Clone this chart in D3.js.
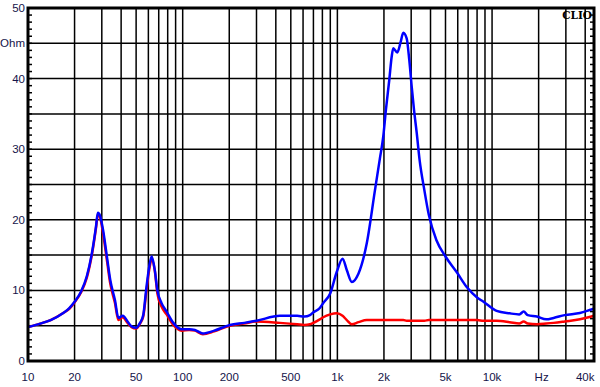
<!DOCTYPE html>
<html>
<head>
<meta charset="utf-8">
<script src="https://cdn.jsdelivr.net/npm/d3@7"></script>
<style>
  body { margin: 0; background: #fff; }
  svg { display: block; }
  .lbl { font-family: "Liberation Sans", Arial, sans-serif; font-size: 11.5px; fill: #14144a; }
</style>
</head>
<body>
<div id="chart-area"></div>
<script>
// frequency points (Hz)
var freqs = [10, 12, 14, 16.9, 18.5, 20, 22, 24, 26, 27.5, 28.3, 29.2, 30.6, 32.5, 34, 36.5, 38.4, 41, 44, 46.7,
  50, 53, 55.6, 58, 60.8, 63, 66, 68.6, 73, 78.7, 87, 98.5, 110, 120, 135, 160, 202, 250, 300, 425,
  550, 611, 665, 700, 770, 810, 900, 990, 1080, 1150, 1240, 1370, 1550, 1750, 1880, 1980, 2060, 2165, 2244, 2298,
  2438, 2566, 2668, 2805, 2917, 3022, 3128, 3258, 3400, 3650, 3900, 4370, 5000, 5900, 6900, 8000, 8800, 10700, 13000, 15000,
  16000, 17000, 19500, 22400, 25000, 29500, 37000, 43900, 45500];

// impedance, blue curve (ohm)
var blueZ = [4.8, 5.3, 5.8, 6.8, 7.5, 8.4, 9.8, 12.0, 15.5, 19.0, 21.0, 20.6, 18.5, 14.5, 11.5, 8.6, 6.1, 6.4, 5.6, 4.9,
  4.7, 5.4, 6.5, 10.0, 13.4, 14.8, 12.9, 10.0, 8.2, 7.0, 5.4, 4.5, 4.5, 4.4, 3.9, 4.3, 5.1, 5.4, 5.7, 6.4,
  6.4, 6.3, 6.5, 6.9, 7.5, 8.2, 9.6, 12.6, 14.5, 12.9, 11.2, 12.4, 16.7, 24.2, 28.6, 31.8, 35.6, 39.8, 43.1, 44.3,
  43.7, 45.2, 46.5, 45.7, 42.6, 38.9, 35.6, 32.3, 28.5, 24.2, 20.7, 17.1, 14.8, 12.6, 10.4, 9.0, 8.4, 7.1, 6.75, 6.6,
  7.0, 6.5, 6.3, 5.9, 6.1, 6.5, 6.8, 7.3, 7.4];

// impedance, red curve (ohm)
var redZ = [4.8, 5.3, 5.8, 6.8, 7.4, 8.3, 9.7, 11.8, 15.3, 18.8, 20.8, 20.4, 18.0, 14.0, 11.0, 8.2, 5.8, 6.2, 5.4, 4.8,
  4.6, 5.3, 6.3, 9.5, 13.0, 14.4, 12.8, 9.6, 7.7, 6.6, 5.1, 4.3, 4.4, 4.3, 3.8, 4.2, 5.0, 5.3, 5.6, 5.4,
  5.2, 5.1, 5.2, 5.4, 5.9, 6.2, 6.6, 6.75, 6.4, 5.8, 5.2, 5.5, 5.8, 5.8, 5.8, 5.8, 5.8, 5.8, 5.8, 5.8,
  5.8, 5.8, 5.8, 5.7, 5.7, 5.7, 5.7, 5.7, 5.7, 5.7, 5.8, 5.8, 5.8, 5.8, 5.8, 5.8, 5.7, 5.7, 5.5, 5.3,
  5.6, 5.3, 5.2, 5.3, 5.4, 5.6, 5.9, 6.3, 6.4];

var xTickVals = [10, 20, 50, 100, 200, 500, 1000, 2000, 5000, 10000, 20000, 40000];
var xTickText = ["10", "20", "50", "100", "200", "500", "1k", "2k", "5k", "10k", "Hz", "40k"];
var yTickVals = [0, 10, 20, 30, 40, 45, 50];
var yTickText = ["0", "10", "20", "30", "40", "Ohm", "50"];

var width = 600, height = 387;
var pLeft = 28, pRight = 594, pTop = 8, pBottom = 361;

var svg = d3.select("#chart-area").append("svg").attr("width", width).attr("height", height);

var x = d3.scaleLog().domain([10, 45600]).range([pLeft, pRight]);
var y = d3.scaleLinear().domain([0, 50]).range([pBottom, pTop]);

// vertical grid: 1..9 of each decade
var vgrid = [];
[10, 100, 1000, 10000].forEach(function(dec) {
  for (var i = 1; i < 10; i++) { var f = dec * i; if (f > 10 && f < 45600) vgrid.push(f); }
});
svg.append("g").selectAll("line").data(vgrid).enter().append("line")
  .attr("x1", d => x(d)).attr("x2", d => x(d))
  .attr("y1", pTop).attr("y2", pBottom)
  .attr("stroke", "#000").attr("stroke-width", 1.5);

// horizontal grid every 5 ohm
svg.append("g").selectAll("line").data(d3.range(5, 50, 5)).enter().append("line")
  .attr("x1", pLeft).attr("x2", pRight)
  .attr("y1", d => y(d)).attr("y2", d => y(d))
  .attr("stroke", "#000").attr("stroke-width", 1.5);

// minor ticks on the left and right edges
var minor = d3.range(1, 50);
svg.append("g").selectAll("line").data(minor).enter().append("line")
  .attr("x1", pLeft).attr("x2", pLeft + 4)
  .attr("y1", d => y(d)).attr("y2", d => y(d))
  .attr("stroke", "#000").attr("stroke-width", 1.5);
svg.append("g").selectAll("line").data(minor).enter().append("line")
  .attr("x1", pRight - 4).attr("x2", pRight)
  .attr("y1", d => y(d)).attr("y2", d => y(d))
  .attr("stroke", "#000").attr("stroke-width", 1.5);

var line = d3.line()
  .x(d => x(d[0]))
  .y(d => y(d[1]))
  .curve(d3.curveMonotoneX);

svg.append("path")
  .attr("d", line(d3.zip(freqs, redZ)))
  .attr("fill", "none").attr("stroke", "#ff0000").attr("stroke-width", 2.5);

svg.append("path")
  .attr("d", line(d3.zip(freqs, blueZ)))
  .attr("fill", "none").attr("stroke", "#0000ff").attr("stroke-width", 2.5);

// frame
svg.append("rect")
  .attr("x", pLeft).attr("y", pTop)
  .attr("width", pRight - pLeft).attr("height", pBottom - pTop)
  .attr("fill", "none").attr("stroke", "#000").attr("stroke-width", 3);

// labels
svg.append("g").selectAll("text").data(yTickVals).enter().append("text")
  .attr("class", "lbl")
  .attr("x", pLeft - 3).attr("y", d => y(d) + 4)
  .attr("text-anchor", "end")
  .text((d, i) => yTickText[i]);

svg.append("g").selectAll("text").data(xTickVals).enter().append("text")
  .attr("class", "lbl")
  .attr("x", (d, i) => x(d) + (i == 10 ? 3 : 0)).attr("y", 381)
  .attr("text-anchor", "middle")
  .text((d, i) => xTickText[i]);

svg.append("text")
  .attr("x", 592).attr("y", 19)
  .attr("text-anchor", "end")
  .style("font-family", "'DejaVu Serif', serif")
  .style("font-weight", "bold")
  .style("font-size", "10.5px")
  .attr("fill", "#000")
  .text("CLIO");
</script>
</body>
</html>
